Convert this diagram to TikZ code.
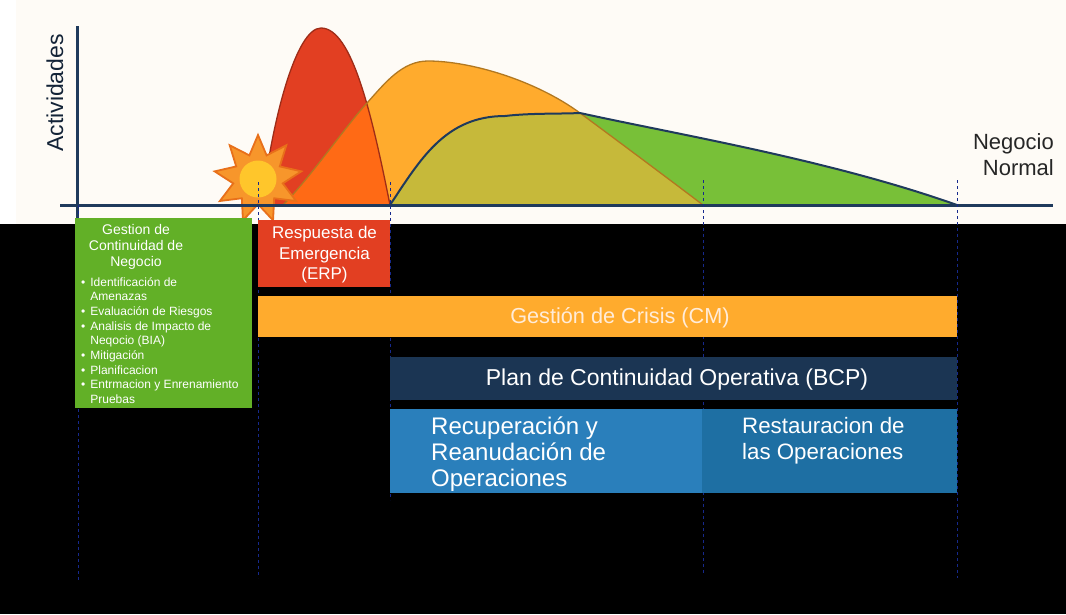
\documentclass[tikz,border=0pt]{standalone}
\usepackage{fontspec}
\setmainfont{Liberation Sans}
\usetikzlibrary{shapes.geometric}
\definecolor{paper}{HTML}{FEFBF6}
\definecolor{axiscol}{HTML}{1F3A5C}
\definecolor{redcol}{HTML}{E23F22}
\definecolor{orangecol}{HTML}{FFAB2D}
\definecolor{greencol}{HTML}{78C038}
\definecolor{overlapred}{HTML}{FF6A15}
\definecolor{overlapgreen}{HTML}{C6B93A}
\definecolor{suncol}{HTML}{F7962B}
\definecolor{sunline}{HTML}{E8701A}
\definecolor{corecol}{HTML}{FFC62B}
\definecolor{boxgreen}{HTML}{62B027}
\definecolor{navycol}{HTML}{1B3553}
\definecolor{bluecol}{HTML}{2A7FBB}
\definecolor{tealcol}{HTML}{1E6FA3}
\tikzstyle{bar}=[draw=none, inner sep=0pt, text=white, font=\fontsize{22}{26}\selectfont]
\tikzstyle{guide}=[draw=axiscol!70!blue, line width=0.7pt, dashed]
\tikzstyle{axis}=[draw=axiscol, line width=3pt]
\newcommand{\redcurve}{(262,205) .. controls (272,120) and (296,28) .. (321,28) .. controls (352,28) and (372,115) .. (390,205)}
\newcommand{\orangecurve}{(283,205) .. controls (310,178) and (345,127) .. (367,103) .. controls (385,83) and (402,61) .. (428,61) .. controls (470,61) and (535,80) .. (580,113) .. controls (630,150) and (670,180) .. (703,205)}
\newcommand{\greencurve}{(390,205) .. controls (420,160) and (445,116) .. (505,116) .. controls (530,113) and (560,114) .. (580,113) .. controls (680,135) and (830,160) .. (957,205)}

\begin{document}
\begin{tikzpicture}[x=1pt, y=-1pt]
    \useasboundingbox (0,0) rectangle (1066,614);
    \fill[black] (0,0) rectangle (1066,614);
    \fill[white] (0,0) rectangle (1066,224);
    \fill[paper] (16,0) rectangle (1066,224);
    % curves
    \fill[redcol] \redcurve -- cycle;
    \fill[orangecol] \orangecurve -- cycle;
    \fill[greencol] \greencurve -- cycle;
    \begin{scope}
        \clip \redcurve -- cycle;
        \fill[overlapred] \orangecurve -- cycle;
    \end{scope}
    \begin{scope}
        \clip \orangecurve -- cycle;
        \fill[overlapgreen] \greencurve -- cycle;
    \end{scope}
    \draw[redcol!70!black, line width=1.3pt] \redcurve;
    \draw[orangecol!70!black, line width=1.3pt] \orangecurve;
    \draw[axiscol, line width=2pt] \greencurve;
    % sun
    \node[star, star points=9, star point ratio=1.75, minimum size=88pt, inner sep=0pt, fill=suncol, draw=sunline, line width=1.8pt] (sun) at (258,179) {};
    \node[circle, fill=corecol, minimum size=37pt, inner sep=0pt] (core) at (258,179) {};
    % axes
    \coordinate (ytop) at (77,26);
    \coordinate (ybot) at (77,218);
    \coordinate (xleft) at (60,205);
    \coordinate (xright) at (1053,205);
    \draw[axis] (ytop) -- (ybot);
    \draw[axis] (xleft) -- (xright);
    % guides
    \coordinate (g1a) at (78,205); \coordinate (g1b) at (78,580);
    \coordinate (g2a) at (258,182); \coordinate (g2b) at (258,578);
    \coordinate (g3a) at (390,182); \coordinate (g3b) at (390,500);
    \coordinate (g4a) at (703,180); \coordinate (g4b) at (703,575);
    \coordinate (g5a) at (957,180); \coordinate (g5b) at (957,578);
    \foreach \g in {1,...,5}
        \draw[guide] (g\g a) -- (g\g b);
    % boxes
    \fill[boxgreen] (75,218) rectangle (252,408);
    \fill[redcol] (258,220) rectangle (390,287);
    \fill[orangecol] (258,296) rectangle (957,337);
    \fill[navycol] (390,357) rectangle (957,400);
    \fill[bluecol] (390,409) rectangle (702,493);
    \fill[tealcol] (702,409) rectangle (957,493);
    % labels
    \node[rotate=90, text=axiscol!60!black, font=\fontsize{23}{24}\selectfont] (act) at (55,93) {Actividades};
    \node[align=right, anchor=east, inner sep=0pt, text=black!85, font=\fontsize{22}{26}\selectfont] (normal) at (1054,155) {Negocio\\Normal};
    \node[bar, align=center, font=\fontsize{14}{16}\selectfont] (gcn) at (136,247) {Gestion de\\Continuidad de\\Negocio};
    \node[bar, align=center, font=\fontsize{17}{20.5}\selectfont] (erp) at (324.5,255) {Respuesta de\\Emergencia\\(ERP)};
    \node[bar, text=white!85!orange, font=\fontsize{21.7}{26}\selectfont] (cm) at (620,318) {Gestión de Crisis (CM)};
    \node[bar, font=\fontsize{23}{26}\selectfont] (bcp) at (677,379.5) {Plan de Continuidad Operativa (BCP)};
    \node[bar, align=left, anchor=north west, font=\fontsize{24}{26}\selectfont] (rec) at (431,417) {Recuperación y\\Reanudación de\\Operaciones};
    \node[bar, align=left, anchor=north west, font=\fontsize{22.3}{26}\selectfont] (res) at (742,417) {Restauracion de\\las Operaciones};
    \node[bar, align=left, anchor=north west, font=\fontsize{12}{14.7}\selectfont] (list) at (81,277) {%
        •\hspace{5pt}Identificación de\\
        \hphantom{•}\hspace{5pt}Amenazas\\
        •\hspace{5pt}Evaluación de Riesgos\\
        •\hspace{5pt}Analisis de Impacto de\\
        \hphantom{•}\hspace{5pt}Neqocio (BIA)\\
        •\hspace{5pt}Mitigación\\
        •\hspace{5pt}Planificacion\\
        •\hspace{5pt}Entrmacion y Enrenamiento\\
        \hphantom{•}\hspace{5pt}Pruebas};
\end{tikzpicture}
\end{document}
